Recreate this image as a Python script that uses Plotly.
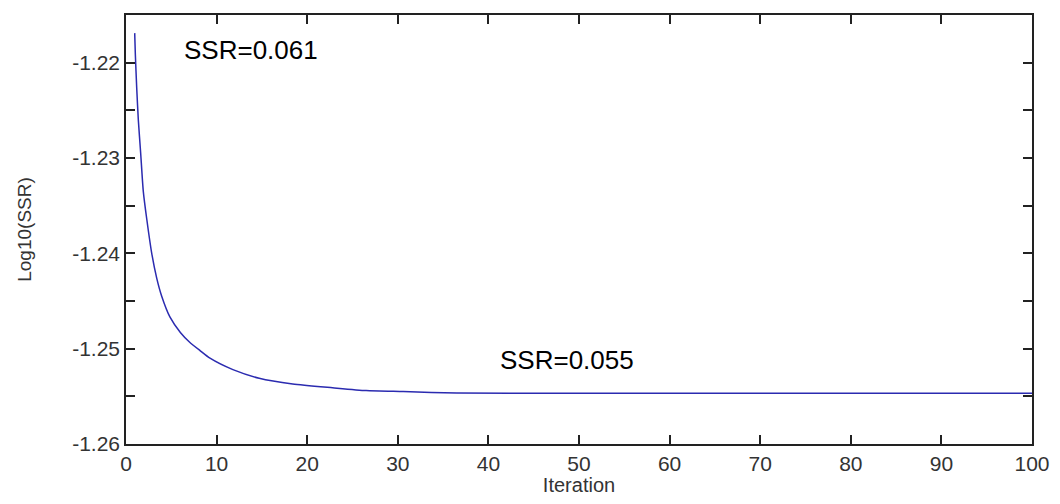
import plotly.graph_objects as go

# Data
iteration = [0.96, 1.03, 1.18, 1.36, 1.62, 1.91, 2.29, 2.84, 3.39, 3.94, 4.86,
             6.0, 7.0, 8.17, 9.27, 11.8, 14.7, 18.4, 22.8, 26.5, 30.6, 36.5, 50, 70, 100]
log_ssr = [-1.2169, -1.2191, -1.2226, -1.2260, -1.2295, -1.2335, -1.2364, -1.2400,
           -1.2426, -1.2445, -1.2467, -1.2483, -1.2493, -1.2502, -1.2510, -1.2522,
           -1.2531, -1.2537, -1.2541, -1.2544, -1.2545, -1.25465, -1.25467, -1.25468,
           -1.25468]

y_tick_vals = [-1.26, -1.255, -1.25, -1.245, -1.24, -1.235, -1.23, -1.225, -1.22, -1.215]
y_tick_text = ["-1.26", "", "-1.25", "", "-1.24", "", "-1.23", "", "-1.22", ""]
x_tick_vals = [0, 10, 20, 30, 40, 50, 60, 70, 80, 90, 100]

annot_text = ["SSR=0.061", "SSR=0.055"]
annot_x = [6.2, 41.1]
annot_y = [-1.2187, -1.2512]

FONT = "Liberation Sans, Arial"

fig = go.Figure()
fig.add_trace(go.Scatter(x=iteration, y=log_ssr, mode="lines",
                         line=dict(color="#2b2bb0", width=1.5, shape="spline", smoothing=0.6),
                         showlegend=False))

for t, ax_, ay_ in zip(annot_text, annot_x, annot_y):
    fig.add_annotation(x=ax_, y=ay_, text=t, showarrow=False, xanchor="left",
                       yanchor="middle", font=dict(family=FONT, size=26, color="#000"))

axis_common = dict(showline=True, linecolor="#222", linewidth=1.5, mirror="ticks",
                   ticks="inside", ticklen=9, tickcolor="#222", tickwidth=1.5,
                   showgrid=False, zeroline=False, automargin=False,
                   tickfont=dict(family=FONT, size=21, color="#333"))

fig.update_xaxes(range=[0, 100], tickvals=x_tick_vals,
                 title=dict(text="Iteration", font=dict(family=FONT, size=20, color="#333"), standoff=8),
                 **axis_common)
fig.update_yaxes(range=[-1.26, -1.215], tickvals=y_tick_vals, ticktext=y_tick_text,
                 title=dict(text="Log10(SSR)", font=dict(family=FONT, size=19, color="#333"), standoff=36),
                 **axis_common)

fig.update_layout(width=1044, height=488, plot_bgcolor="white", paper_bgcolor="white",
                  margin=dict(l=118, r=20, t=7, b=52, autoexpand=False))

fig.write_html("out.html")
